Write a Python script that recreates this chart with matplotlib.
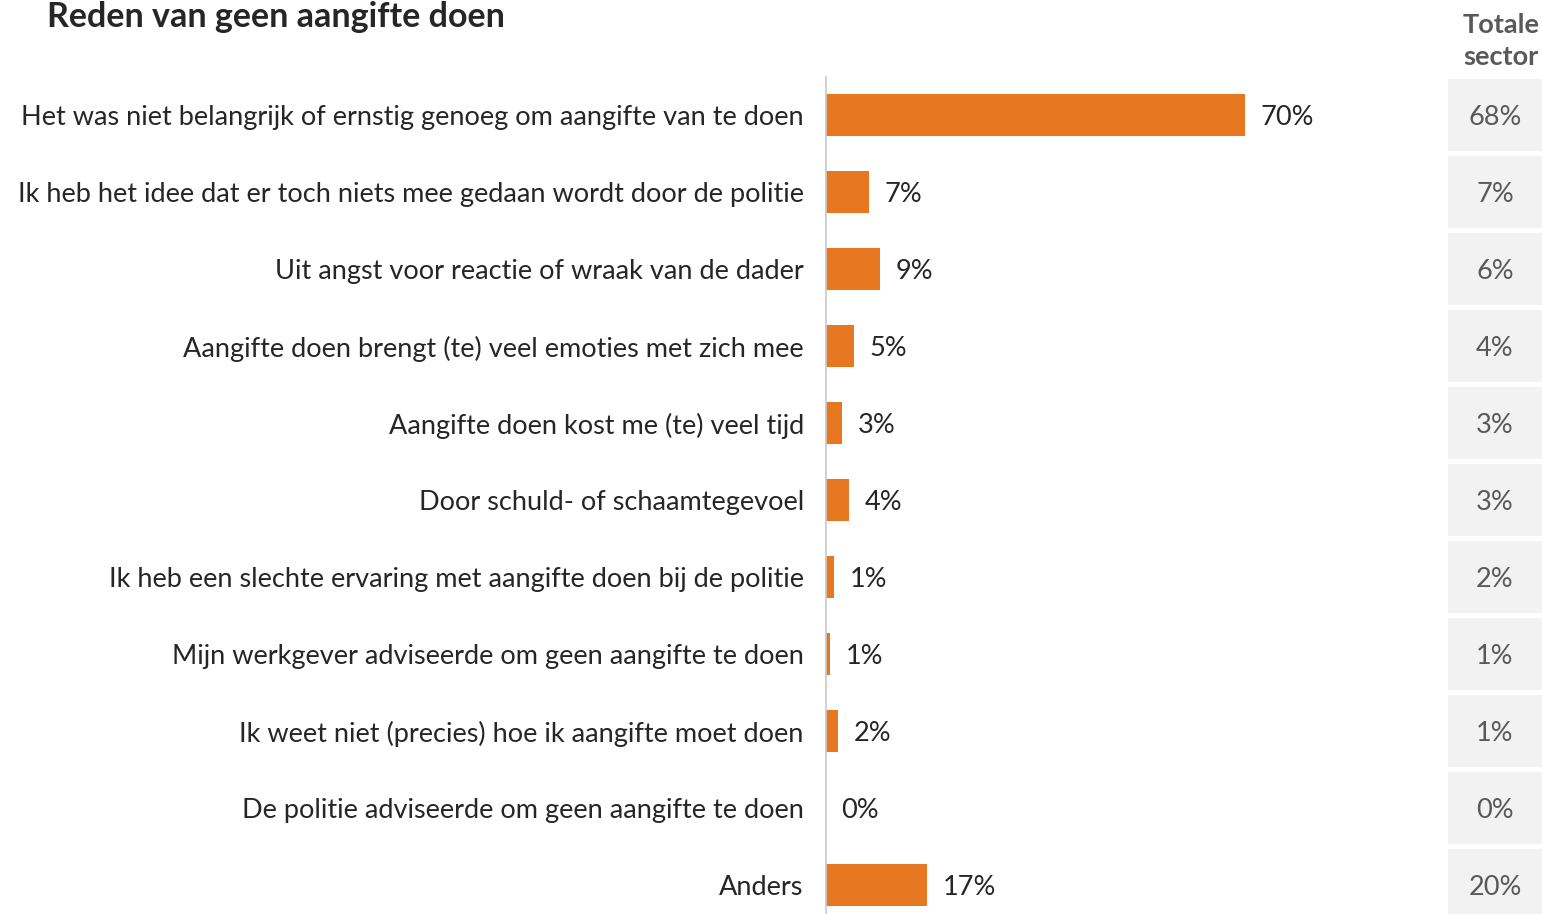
import matplotlib; matplotlib.use('Agg')
import matplotlib.pyplot as plt

plt.rcParams['font.family'] = ['Lato', 'DejaVu Sans']

reasons = [
    'Het was niet belangrijk of ernstig genoeg om aangifte van te doen',
    'Ik heb het idee dat er toch niets mee gedaan wordt door de politie',
    'Uit angst voor reactie of wraak van de dader',
    'Aangifte doen brengt (te) veel emoties met zich mee',
    'Aangifte doen kost me (te) veel tijd',
    'Door schuld- of schaamtegevoel',
    'Ik heb een slechte ervaring met aangifte doen bij de politie',
    'Mijn werkgever adviseerde om geen aangifte te doen',
    'Ik weet niet (precies) hoe ik aangifte moet doen',
    'De politie adviseerde om geen aangifte te doen',
    'Anders',
]
# bar lengths (%)
values = [70, 7.2, 9.0, 4.6, 2.7, 3.8, 1.3, 0.7, 2.0, 0.0, 16.9]
sector = [68, 7, 6, 4, 3, 3, 2, 1, 1, 0, 20]

W, H = 1542, 914
fig = plt.figure(figsize=(W/100, H/100), dpi=100)

# main bar axes: x from 826 px, rows 77 px apart starting at 115 px
top, row = 76.5, 77
n = len(reasons)
bottom = top + n*row
ax = fig.add_axes([826/W, 1 - bottom/H, 599/W, n*row/H])
ypos = list(range(n))
ax.barh(ypos, values, height=0.55, color='#E87722')
ax.set_xlim(0, 100)
ax.set_ylim(n - 0.5, -0.5)
for s in ['top', 'right', 'bottom']:
    ax.spines[s].set_visible(False)
ax.spines['left'].set_color('#c8c8c8')
ax.spines['left'].set_linewidth(1.2)
ax.set_xticks([])
ax.set_yticks(ypos)
ax.set_yticklabels(reasons, fontsize=19.5, color='#262626')
ax.tick_params(axis='y', length=0, pad=16)
for y, v in zip(ypos, values):
    ax.text(v + 2.6, y + 0.03, f'{v:.0f}%', va='center', ha='left', fontsize=19.5, color='#262626')

# totale sector column
ax2 = fig.add_axes([1448/W, 1 - bottom/H, 94/W, n*row/H], sharey=ax)
ax2.barh(ypos, [1]*n, height=0.935, color='#f2f2f2')
ax2.set_xlim(0, 1)
ax2.axis('off')
for y, v in zip(ypos, sector):
    ax2.text(0.5, y + 0.03, f'{v}%', va='center', ha='center', fontsize=19.5, color='#595959')

fig.text(1501/W, 1 - 41/H, 'Totale\nsector', ha='center', va='center', fontsize=19.5,
         fontweight='bold', color='#595959', linespacing=1.4)
fig.text(47/W, 1 - 17/H, 'Reden van geen aangifte doen', ha='left', va='center',
         fontsize=24.5, fontweight='bold', color='#262626')

fig.savefig('out.png', dpi=100)
